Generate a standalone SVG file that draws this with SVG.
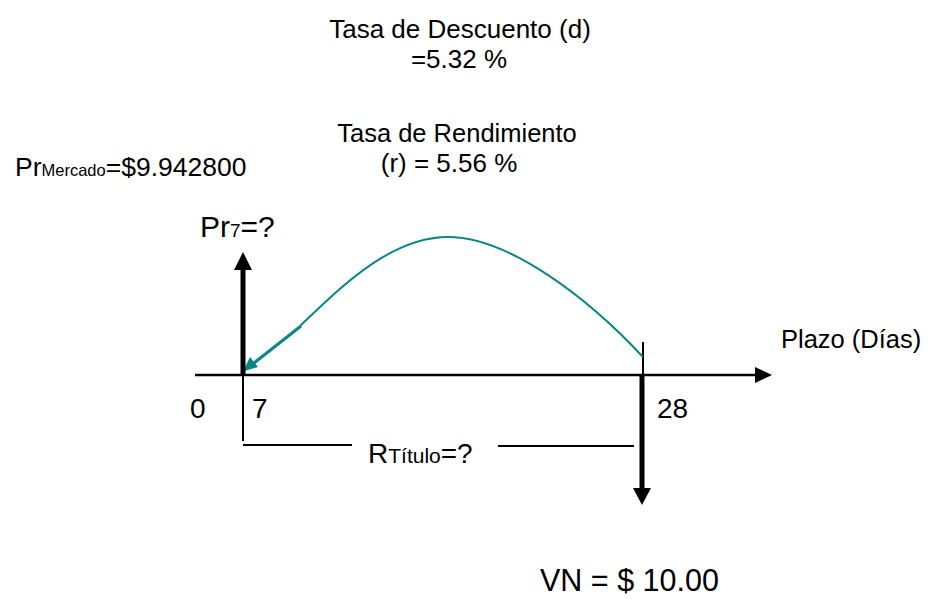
<svg xmlns="http://www.w3.org/2000/svg" width="928" height="599" viewBox="0 0 928 599">
<style>
text{font-family:"Liberation Sans",Arial,sans-serif;fill:#000}
.thin{stroke:#000;stroke-width:2;fill:none}
.axis{stroke:#000;stroke-width:2.5;fill:none}
.thick{stroke:#000;stroke-width:5;fill:none}
.teal{stroke:#0a8686;stroke-width:2;fill:none}
</style>
<rect width="928" height="599" fill="#fff"/>
<g id="labels">
<text x="460" y="38" font-size="26" text-anchor="middle">Tasa de Descuento (d)</text>
<text x="459" y="68" font-size="26" text-anchor="middle">=5.32 %</text>
<text x="457" y="142" font-size="25.5" text-anchor="middle">Tasa de Rendimiento</text>
<text x="449" y="172" font-size="26" text-anchor="middle">(r) = 5.56 %</text>
<text x="15" y="176" font-size="26.5">Pr<tspan font-size="16.5">Mercado</tspan>=$9.942800</text>
</g>
<g id="axis">
<line class="axis" x1="195" y1="375" x2="757" y2="375"/>
<polygon points="772,375 755,367 755,383" fill="#000"/>
<text x="781" y="348" font-size="25.5">Plazo (Días)</text>
<text x="190" y="418" font-size="28">0</text>
<text x="252" y="418" font-size="28">7</text>
<text x="657" y="418" font-size="28">28</text>
</g>
<g id="connectors">
<line class="thin" x1="243" y1="375" x2="243" y2="441"/>
<line class="thin" x1="643" y1="342" x2="643" y2="375"/>
<line class="thin" x1="243" y1="445" x2="352" y2="445"/>
<line class="thin" x1="498" y1="446" x2="634" y2="446"/>
<path class="teal" d="M643,357 C590,300 510,237 448,237 C390,237 340,288 300,326"/>
<line x1="301" y1="326" x2="254" y2="363" stroke="#0a8686" stroke-width="3"/>
<polygon points="243,371.5 250,357 258,367" fill="#0a8686"/>
</g>
<g id="pr7">
<line class="thick" x1="243" y1="375" x2="243" y2="268"/>
<polygon points="243,252 234,270 252,270" fill="#000"/>
<text x="200" y="237" font-size="30">Pr<tspan font-size="19">7</tspan>=?</text>
</g>
<g id="vn">
<line class="thick" x1="642" y1="375" x2="642" y2="490"/>
<polygon points="642,505 633,488 651,488" fill="#000"/>
<text x="540" y="591" font-size="30.5">VN = $ 10.00</text>
</g>
<g id="rtitulo">
<text x="368" y="463" font-size="28">R<tspan font-size="21">Título</tspan>=?</text>
</g>
</svg>
